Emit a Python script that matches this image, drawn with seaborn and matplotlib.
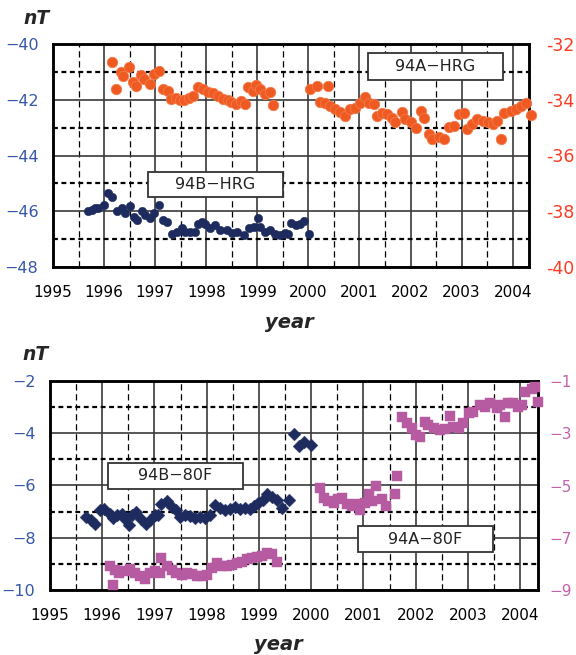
import numpy as np
import pandas as pd
import matplotlib
matplotlib.use("Agg")
import matplotlib.pyplot as plt
import seaborn as sns
from matplotlib.ticker import MultipleLocator, FixedLocator
from matplotlib.patches import Rectangle

sns.set_theme(style="white")
plt.rcParams['font.family'] = ['DejaVu Sans']

# ---------------- data ----------------
years = [1995, 1996, 1997, 1998, 1999, 2000, 2001, 2002, 2003, 2004]

# 94A-HRG (right axis, top panel)
a_hrg_t = [1996.15, 1996.24, 1996.33, 1996.38, 1996.48, 1996.56, 1996.62, 1996.72, 1996.79, 1996.89,
           1996.98, 1997.08, 1997.15, 1997.25, 1997.31, 1997.40, 1997.48, 1997.57, 1997.67, 1997.75,
           1997.84, 1997.93, 1998.03, 1998.13, 1998.23, 1998.33, 1998.43, 1998.49, 1998.59, 1998.69,
           1998.75, 1998.82, 1998.92, 1998.98, 1999.05, 1999.15, 1999.25, 1999.31,
           2000.03, 2000.16, 2000.39, 2000.23, 2000.33, 2000.43, 2000.52, 2000.62, 2000.72, 2000.82,
           2000.92, 2001.02, 2001.10, 2001.18, 2001.28, 2001.34, 2001.44, 2001.54, 2001.64, 2001.70,
           2001.84, 2001.90, 2002.00, 2002.10, 2002.20, 2002.26, 2002.36, 2002.43, 2002.56, 2002.66,
           2002.75, 2002.85, 2002.95, 2003.05, 2003.11, 2003.21, 2003.31, 2003.41, 2003.51, 2003.61,
           2003.70, 2003.77, 2003.84, 2003.97, 2004.07, 2004.16, 2004.26, 2004.36]
a_hrg_v = [-32.64, -33.60, -33.02, -33.14, -32.84, -33.36, -33.50, -33.12, -33.26, -33.44,
           -33.08, -32.96, -33.60, -33.68, -33.98, -33.92, -34.01, -34.01, -33.92, -33.86,
           -33.53, -33.62, -33.72, -33.77, -33.86, -33.98, -34.01, -34.08, -34.16, -34.04,
           -34.16, -33.56, -33.68, -33.48, -33.62, -33.80, -33.72, -34.20,
           -33.62, -33.50, -33.50, -34.08, -34.13, -34.22, -34.32, -34.44, -34.58, -34.34,
           -34.28, -34.10, -33.89, -34.13, -34.16, -34.58, -34.49, -34.52, -34.64, -34.80,
           -34.44, -34.70, -34.80, -35.00, -34.40, -34.64, -35.24, -35.40, -35.32, -35.42,
           -34.96, -34.94, -34.52, -34.46, -35.06, -34.88, -34.70, -34.76, -34.80, -34.88,
           -34.76, -35.42, -34.46, -34.40, -34.34, -34.22, -34.10, -34.56]

# 94B-HRG (left axis, top panel)
b_hrg_t = [1995.69, 1995.76, 1995.82, 1995.89, 1995.99, 1996.08, 1996.15, 1996.25, 1996.35, 1996.41,
           1996.50, 1996.58, 1996.64, 1996.74, 1996.80, 1996.90, 1996.97, 1997.08, 1997.16, 1997.24,
           1997.33, 1997.42, 1997.52, 1997.59, 1997.69, 1997.78, 1997.83, 1997.92, 1997.98, 1998.08,
           1998.18, 1998.27, 1998.41, 1998.50, 1998.60, 1998.73, 1998.83, 1998.93, 1999.01, 1999.06,
           1999.16, 1999.25, 1999.35, 1999.45, 1999.55, 1999.61, 1999.66, 1999.75, 1999.84, 1999.92,
           2000.01]
b_hrg_v = [-46.00, -45.94, -45.88, -45.88, -45.76, -45.33, -45.49, -46.00, -45.88, -46.06,
           -45.82, -46.22, -46.30, -46.00, -46.12, -46.24, -46.06, -45.76, -46.30, -46.37,
           -46.83, -46.76, -46.61, -46.73, -46.76, -46.73, -46.46, -46.37, -46.46, -46.61,
           -46.49, -46.67, -46.67, -46.79, -46.73, -46.85, -46.61, -46.55, -46.24, -46.55,
           -46.73, -46.67, -46.83, -46.85, -46.79, -46.83, -46.43, -46.49, -46.46, -46.34,
           -46.83]

# 94B-80F (left axis, bottom panel)
b_80f_t = [1995.69, 1995.79, 1995.87, 1995.96, 1996.04, 1996.14, 1996.21, 1996.28, 1996.37, 1996.43,
           1996.51, 1996.56, 1996.65, 1996.75, 1996.83, 1996.91, 1997.01, 1997.07, 1997.13, 1997.24,
           1997.33, 1997.42, 1997.49, 1997.58, 1997.68, 1997.78, 1997.87, 1997.97, 1998.06, 1998.16,
           1998.26, 1998.35, 1998.45, 1998.54, 1998.64, 1998.74, 1998.83, 1998.90, 1998.99, 1999.08,
           1999.15, 1999.25, 1999.35, 1999.44, 1999.57, 1999.67, 1999.76, 1999.86, 1999.99]
b_80f_v = [-7.20, -7.33, -7.46, -6.95, -6.89, -7.08, -7.23, -7.14, -7.08, -7.27,
           -7.52, -7.14, -7.01, -7.27, -7.49, -7.33, -7.14, -7.14, -6.70, -6.59,
           -6.82, -6.92, -7.20, -7.14, -7.18, -7.23, -7.20, -7.23, -7.14, -6.76,
           -6.85, -6.95, -6.89, -6.82, -6.89, -6.85, -6.89, -6.80, -6.67, -6.57,
           -6.32, -6.44, -6.57, -6.85, -6.54, -4.04, -4.48, -4.35, -4.44]

# 94A-80F (right axis, bottom panel)
a_80f_t = [1996.14, 1996.21, 1996.24, 1996.33, 1996.43, 1996.53, 1996.62, 1996.72, 1996.81, 1996.91,
           1997.01, 1997.10, 1997.13, 1997.23, 1997.33, 1997.42, 1997.52, 1997.62, 1997.71, 1997.81,
           1997.90, 1998.00, 1998.10, 1998.19, 1998.29, 1998.38, 1998.48, 1998.58, 1998.67, 1998.77,
           1998.87, 1998.96, 1999.06, 1999.15, 1999.25, 1999.35,
           2000.17, 2000.24, 2000.33, 2000.43, 2000.52, 2000.59, 2000.68, 2000.78, 2000.87, 2000.94,
           2001.03, 2001.10, 2001.16, 2001.24, 2001.35, 2001.43, 2001.60, 2001.65, 2001.73, 2001.83,
           2001.92, 2002.01, 2002.08, 2002.18, 2002.24, 2002.34, 2002.46, 2002.56, 2002.66, 2002.72,
           2002.82, 2002.91, 2003.01, 2003.10, 2003.23, 2003.32, 2003.42, 2003.55, 2003.61, 2003.71,
           2003.77, 2003.87, 2003.96, 2004.03, 2004.09, 2004.22, 2004.28, 2004.34]
a_80f_v = [-8.10, -8.80, -8.23, -8.35, -8.29, -8.20, -8.35, -8.48, -8.58, -8.35,
           -8.29, -8.35, -7.78, -8.10, -8.23, -8.35, -8.42, -8.35, -8.38, -8.46,
           -8.48, -8.42, -8.16, -7.97, -8.08, -8.10, -8.04, -7.97, -7.91, -7.82,
           -7.78, -7.72, -7.70, -7.57, -7.62, -7.91,
           -5.09, -5.47, -5.59, -5.66, -5.53, -5.47, -5.72, -5.78, -5.72, -5.94,
           -5.66, -5.34, -5.59, -5.03, -5.53, -5.78, -5.34, -4.62, -2.39, -2.62,
           -2.81, -3.06, -3.13, -2.56, -2.68, -2.81, -2.87, -2.85, -2.34, -2.75,
           -2.81, -2.62, -2.24, -2.18, -1.92, -1.99, -1.86, -2.05, -1.92, -2.37,
           -1.86, -1.86, -1.99, -1.92, -1.42, -1.29, -1.23, -1.80]

top_left_ticks = [-48, -46, -44, -42, -40]
top_right_ticks = [-40, -38, -36, -34, -32]
top_right_labels = ['-40', '-38', '-36', '-34', '-32']
bot_left_ticks = [-10, -8, -6, -4, -2]
bot_right_ticks = [-9, -7, -5, -3, -1]
bot_right_labels = ['\u22129', '\u22127', '\u22125', '\u22123', '\u22121']

labels = {'a_hrg': '94A\u2212HRG', 'b_hrg': '94B\u2212HRG',
          'b_80f': '94B\u221280F', 'a_80f': '94A\u221280F'}

# ---------------- colours ----------------
C_ORANGE = '#EE5A22'
C_NAVY = '#1E2B5E'
C_MAG = '#B65BA2'
C_LBLUE = '#3656A8'
C_RED = '#FF3A22'
C_RMAG = '#C462AE'

W, H = 576, 655
fig = plt.figure(figsize=(W / 100, H / 100), dpi=100)


def px_axes(x0, y0, x1, y1):
    return fig.add_axes([x0 / W, 1 - y1 / H, (x1 - x0) / W, (y1 - y0) / H])


def style(ax, xmax, ylim, yticks):
    ax.set_xlim(1995, xmax)
    ax.set_ylim(*ylim)
    ax.xaxis.set_major_locator(FixedLocator(years))
    ax.xaxis.set_minor_locator(MultipleLocator(0.5))
    ax.yaxis.set_major_locator(FixedLocator(yticks))
    ax.yaxis.set_minor_locator(MultipleLocator(1))
    ax.set_axisbelow(True)
    ax.grid(which='major', axis='both', color='#3a3a3a', lw=1.2, ls='-')
    ax.xaxis.grid(which='minor', color='black', lw=0.9, ls=(0, (5.0, 3.0)))
    ax.yaxis.grid(which='minor', color='black', lw=1.6, ls=(0, (2.2, 1.6)))
    ax.tick_params(axis='both', which='both', length=0)
    ax.tick_params(axis='x', pad=13, labelsize=11, labelcolor='black')
    ax.tick_params(axis='y', pad=10.5, labelsize=11.5, labelcolor=C_LBLUE)
    for s in ax.spines.values():
        s.set_color('black')
        s.set_linewidth(1.8)
    ax.set_xlabel('')
    ax.set_ylabel('')


def box(x0, y0, x1, y1, text):
    fig.patches.append(Rectangle((x0 / W, 1 - y1 / H), (x1 - x0) / W, (y1 - y0) / H,
                                 transform=fig.transFigure, facecolor='white',
                                 edgecolor='#333333', lw=1.3, zorder=5))
    fig.text((x0 + x1) / 2 / W, 1 - (y0 + y1) / 2 / H, text, ha='center', va='center',
             fontsize=11.5, color='#222222', zorder=6)


# ---------------- top panel ----------------
ax1 = px_axes(53, 44, 529, 267)
df_bh = pd.DataFrame({'year': b_hrg_t, 'nT': b_hrg_v})
sns.scatterplot(data=df_bh, x='year', y='nT', ax=ax1, color=C_NAVY, s=36,
                edgecolor=C_NAVY, linewidth=0.4, legend=False, zorder=3)
style(ax1, 2004.32, (-48, -40), top_left_ticks)

ax1r = ax1.twinx()
df_ah = pd.DataFrame({'year': a_hrg_t, 'nT': a_hrg_v})
sns.scatterplot(data=df_ah, x='year', y='nT', ax=ax1r, color=C_ORANGE, s=56,
                edgecolor='#F47A48', linewidth=0.6, legend=False, clip_on=False, zorder=3)
ax1r.set_ylim(-40, -32)
ax1r.yaxis.set_major_locator(FixedLocator(top_right_ticks))
ax1r.set_yticklabels(top_right_labels)
ax1r.tick_params(axis='y', length=0, pad=12, labelsize=12.5, labelcolor=C_RED)
ax1r.set_ylabel('')
ax1r.grid(False)
for s in ax1r.spines.values():
    s.set_color('black')
    s.set_linewidth(1.8)

fig.text(23 / W, 1 - 19 / H, 'nT', fontsize=13.5, fontweight='bold', fontstyle='italic',
         ha='left', va='center')
fig.text(289 / W, 1 - 323 / H, 'year', fontsize=14, fontweight='bold', fontstyle='italic',
         ha='center', va='center')
box(368, 53, 503, 80, labels['a_hrg'])
box(148, 172, 283, 197, labels['b_hrg'])

# ---------------- bottom panel ----------------
ax2 = px_axes(50, 381, 538, 590)
df_b8 = pd.DataFrame({'year': b_80f_t, 'nT': b_80f_v})
sns.scatterplot(data=df_b8, x='year', y='nT', ax=ax2, color=C_NAVY, marker='D', s=42,
                edgecolor=C_NAVY, linewidth=0.3, legend=False, zorder=3)
style(ax2, 2004.34, (-10, -2), bot_left_ticks)

ax2r = ax2.twinx()
df_a8 = pd.DataFrame({'year': a_80f_t, 'nT': a_80f_v})
sns.scatterplot(data=df_a8, x='year', y='nT', ax=ax2r, color=C_MAG, marker='s', s=50,
                edgecolor=C_MAG, linewidth=0.3, legend=False, clip_on=False, zorder=3)
ax2r.set_ylim(-9, -1)
ax2r.yaxis.set_major_locator(FixedLocator(bot_right_ticks))
ax2r.set_yticklabels(bot_right_labels)
ax2r.tick_params(axis='y', length=0, pad=8, labelsize=11, labelcolor=C_RMAG)
ax2r.set_ylabel('')
ax2r.grid(False)
for s in ax2r.spines.values():
    s.set_color('black')
    s.set_linewidth(1.8)

fig.text(22 / W, 1 - 355 / H, 'nT', fontsize=13.5, fontweight='bold', fontstyle='italic',
         ha='left', va='center')
fig.text(278 / W, 1 - 645 / H, 'year', fontsize=14, fontweight='bold', fontstyle='italic',
         ha='center', va='center')
box(108, 463, 243, 489, labels['b_80f'])
box(358, 526, 493, 552, labels['a_80f'])

fig.savefig('out.png', dpi=100)
